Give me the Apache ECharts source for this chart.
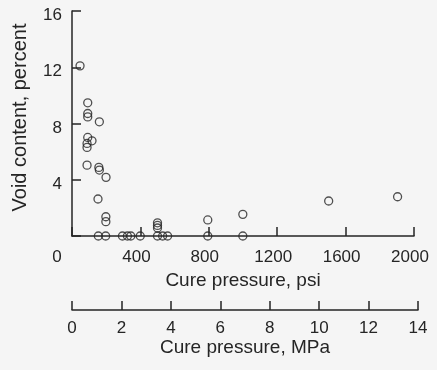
<!DOCTYPE html>
<html>
<head>
<meta charset="utf-8">
<script src="https://cdn.jsdelivr.net/npm/echarts@6/dist/echarts.min.js"></script>
<style>
  html, body { margin: 0; padding: 0; background: #f5f5f5; }
  #chart { width: 437px; height: 370px; }
</style>
</head>
<body>
<div id="chart"></div>
<script>
// cure pressure (psi) and void content (percent)
const curePsi = [
  47, 92, 92, 92, 160, 92, 117, 88, 88, 88, 157, 160, 199, 152, 198, 198,
  500, 500, 500, 794, 999, 1501, 1904,
  154, 197, 295, 324, 344, 399, 500, 530, 559, 794, 999
];
const voidPct = [
  12.1, 9.47, 8.71, 8.47, 8.12, 7.01, 6.77, 6.58, 6.3, 5.04, 4.88, 4.69, 4.17, 2.63, 1.37, 1.02,
  0.94, 0.75, 0.57, 1.14, 1.54, 2.49, 2.79,
  0, 0, 0, 0, 0, 0, 0, 0, 0, 0, 0
];

const psiTicks = [0, 400, 800, 1200, 1600, 2000];
const voidTicks = [0, 4, 8, 12, 16];
const mpaTicks = [0, 2, 4, 6, 8, 10, 12, 14];

const INK = '#252525';
const FONT = '"Liberation Sans", Arial, sans-serif';

const points = curePsi.map((p, i) => [p, voidPct[i]]);

const chart = echarts.init(document.getElementById('chart'));

const lineStyle = { color: INK, width: 1.5 };
const tickText = { fontSize: 17, color: INK, fontFamily: FONT };

chart.setOption({
  backgroundColor: '#f5f5f5',
  animation: false,
  textStyle: { fontFamily: FONT, color: INK },
  grid: [
    { left: 72, right: 23, top: 11, bottom: 134 },
    { left: 72, right: 19, top: 300, height: 10 },
  ],
  xAxis: [
    {
      gridIndex: 0,
      type: 'value',
      min: psiTicks[0],
      max: psiTicks[psiTicks.length - 1],
      interval: psiTicks[1] - psiTicks[0],
      name: 'Cure pressure, psi',
      nameLocation: 'middle',
      nameGap: 32,
      nameTextStyle: { fontSize: 19, color: INK, fontFamily: FONT },
      axisLine: { lineStyle },
      axisTick: { inside: true, length: 9, lineStyle },
      splitLine: { show: false },
      axisLabel: {
        margin: 13,
        ...tickText,
        formatter: (v) => (v === 0 ? '{z|0}' : '{n|' + v + '}'),
        rich: {
          z: { ...tickText, padding: [0, 30, 0, 0] },
          n: { ...tickText, padding: [0, 8, 0, 0] },
        },
      },
    },
    {
      gridIndex: 1,
      type: 'value',
      min: mpaTicks[0],
      max: mpaTicks[mpaTicks.length - 1],
      interval: mpaTicks[1] - mpaTicks[0],
      name: 'Cure pressure, MPa',
      nameLocation: 'middle',
      nameGap: 27,
      nameTextStyle: { fontSize: 19, color: INK, fontFamily: FONT },
      axisLine: { lineStyle },
      axisTick: { inside: true, length: 9, lineStyle },
      splitLine: { show: false },
      axisLabel: { margin: 10, ...tickText },
    },
  ],
  yAxis: [
    {
      gridIndex: 0,
      type: 'value',
      min: voidTicks[0],
      max: voidTicks[voidTicks.length - 1],
      interval: voidTicks[1] - voidTicks[0],
      name: 'Void content, percent',
      nameLocation: 'middle',
      nameGap: 42,
      nameTextStyle: { fontSize: 20, color: INK, fontFamily: FONT, padding: [0, 0, 0, 12] },
      axisLine: { lineStyle },
      axisTick: { inside: true, length: 9, lineStyle },
      splitLine: { show: false },
      axisLabel: {
        margin: 10,
        ...tickText,
        // labels sit a few px below their ticks in the original
        formatter: (v) => (v === 0 ? '' : '{d|' + v + '}'),
        rich: { d: { ...tickText, padding: [9, 0, 0, 0] } },
      },
    },
    {
      gridIndex: 1,
      type: 'value',
      show: false,
    },
  ],
  series: [
    {
      type: 'scatter',
      xAxisIndex: 0,
      yAxisIndex: 0,
      data: points,
      clip: false,
      symbol: 'circle',
      symbolSize: 8,
      itemStyle: { color: 'rgba(0,0,0,0)', borderColor: INK, borderWidth: 1.3 },
      z: 3,
    },
  ],
});
</script>
</body>
</html>
